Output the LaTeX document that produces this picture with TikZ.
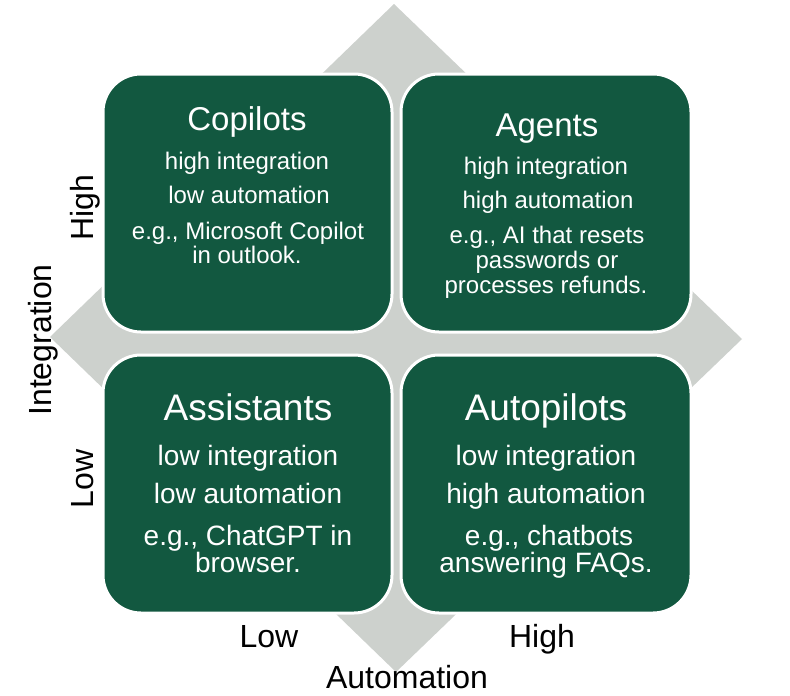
\documentclass[tikz,border=0pt]{standalone}
\usepackage{fontspec}
\setmainfont{Liberation Sans}
\definecolor{boxgreen}{RGB}{18,88,64}
\definecolor{diagray}{RGB}{205,209,205}
\begin{document}
\begin{tikzpicture}[x=1pt,y=-1pt,
  quad/.style={draw=white, line width=3pt, fill=boxgreen, rounded corners=38pt,
    minimum width=289pt, minimum height=258pt, inner sep=0pt, outer sep=0pt},
  ttltop/.style={text=white, anchor=base, inner sep=0pt, font=\fontsize{33}{33}\selectfont},
  bodytop/.style={text=white, anchor=base, inner sep=0pt, font=\fontsize{24}{24}\selectfont},
  ttlbot/.style={text=white, anchor=base, inner sep=0pt, font=\fontsize{37}{37}\selectfont},
  bodybot/.style={text=white, anchor=base, inner sep=0pt, font=\fontsize{28}{28}\selectfont},
  axislbl/.style={text=black, anchor=base, inner sep=0pt, font=\fontsize{32}{32}\selectfont}]
\useasboundingbox (0,0) rectangle (790,696);
% diamond
\fill[diagray] (394,4) -- (742,339) -- (396,672) -- (50,337) -- cycle;
% boxes
\node[quad] (tl) at (247.5,203) {};
\node[quad, minimum width=290pt] (tr) at (546,203) {};
\node[quad] (bl) at (247.5,484) {};
\node[quad, minimum width=290pt] (br) at (546,484) {};
% Copilots
\node[ttltop] (tl1) at (247,130) {Copilots};
\node[bodytop] (tl2) at (247,169) {high integration};
\node[bodytop] (tl3) at (249,203) {low automation};
\node[bodytop] (tl4) at (248,239) {e.g., Microsoft Copilot};
\node[bodytop] (tl5) at (247,263) {in outlook.};
% Agents
\node[ttltop] (tr1) at (547,136) {Agents};
\node[bodytop] (tr2) at (546,174) {high integration};
\node[bodytop] (tr3) at (548,208) {high automation};
\node[bodytop] (tr4) at (547,243) {e.g., AI that resets};
\node[bodytop] (tr5) at (547,268) {passwords or};
\node[bodytop] (tr6) at (546,293) {processes refunds.};
% Assistants
\node[ttlbot] (bl1) at (248,420) {Assistants};
\node[bodybot] (bl2) at (248,465) {low integration};
\node[bodybot] (bl3) at (248,503) {low automation};
\node[bodybot] (bl4) at (248,545) {e.g., ChatGPT in};
\node[bodybot] (bl5) at (248,572) {browser.};
% Autopilots
\node[ttlbot] (br1) at (546,420) {Autopilots};
\node[bodybot] (br2) at (546,465) {low integration};
\node[bodybot] (br3) at (546,503) {high automation};
\node[bodybot] (br4) at (549,545) {e.g., chatbots};
\node[bodybot] (br5) at (546,572) {answering FAQs.};
% axis labels
\node[axislbl] (alow) at (269,647) {Low};
\node[axislbl] (ahigh) at (542,647) {High};
\node[axislbl] (aauto) at (407,688) {Automation};
\node[axislbl, rotate=90] (ihigh) at (93,208) {High};
\node[axislbl, rotate=90] (ilow) at (93,479) {Low};
\node[axislbl, rotate=90] (iint) at (51,340) {Integration};
\end{tikzpicture}
\end{document}
